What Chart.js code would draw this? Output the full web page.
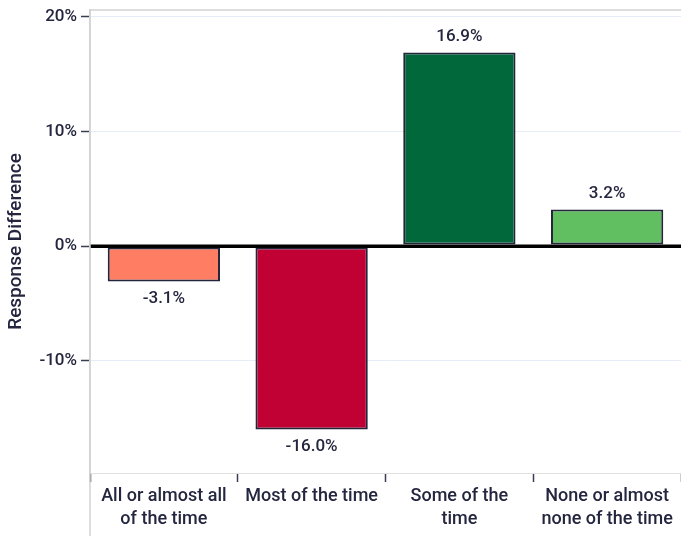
<!DOCTYPE html>
<html>
<head>
<meta charset="utf-8">
<script src="https://cdn.jsdelivr.net/npm/chart.js@4.4.1/dist/chart.umd.min.js"></script>
<style>
  html, body { margin: 0; padding: 0; background: #fff; }
  #wrap { width: 681px; height: 539px; }
</style>
</head>
<body>
<div id="wrap"><canvas id="c" width="681" height="539"></canvas></div>
<script>
// Response categories (multi-line labels as arrays)
const categories = [
  ["All or almost all", "of the time"],
  "Most of the time",
  ["Some of the", "time"],
  ["None or almost", "none of the time"]
];
// Difference in response share, percentage points
const differences = [-3.1, -16.0, 16.9, 3.2];
const barColors = ["#FF7D63", "#C10034", "#00683A", "#61BF62"];
const yTickValues = [-10, 0, 10, 20];
const yTitle = "Response Difference";

const TEXT = "#23263E";
const FONT = "Roboto";

// Zero baseline over the bars, then value labels above positive bars and below negative ones
const valueLabels = {
  id: "valueLabels",
  afterDatasetsDraw(chart) {
    const { ctx, chartArea } = chart;
    const y0 = chart.scales.y.getPixelForValue(0);
    ctx.save();
    ctx.strokeStyle = "#000000";
    ctx.lineWidth = 3;
    ctx.beginPath();
    ctx.moveTo(chartArea.left, y0);
    ctx.lineTo(chartArea.right, y0);
    ctx.stroke();

    const meta = chart.getDatasetMeta(0);
    ctx.font = "500 17px " + FONT;
    ctx.fillStyle = TEXT;
    ctx.textAlign = "center";
    ctx.textBaseline = "middle";
    meta.data.forEach((bar, i) => {
      const v = differences[i];
      const y = v >= 0 ? bar.y - 16 : bar.y + 17;
      ctx.fillText(v.toFixed(1) + "%", bar.x, y);
    });
    ctx.restore();
  }
};

// Top frame line and the y-axis line running down past the category labels
const frame = {
  id: "frame",
  afterDraw(chart) {
    const { ctx, chartArea } = chart;
    ctx.save();
    ctx.strokeStyle = "#D2D2D2";
    ctx.lineWidth = 1.5;
    ctx.beginPath();
    ctx.moveTo(chartArea.left, chartArea.top);
    ctx.lineTo(chartArea.right, chartArea.top);
    ctx.moveTo(chartArea.left, chartArea.top);
    ctx.lineTo(chartArea.left, chart.height - 3);
    ctx.stroke();
    ctx.restore();
  }
};

new Chart(document.getElementById("c"), {
  type: "bar",
  data: {
    labels: categories,
    datasets: [{
      data: differences,
      backgroundColor: barColors,
      borderColor: "#23253A",
      borderWidth: 2,
      borderSkipped: false,
      categoryPercentage: 1,
      barPercentage: 0.76
    }]
  },
  options: {
    responsive: false,
    animation: false,
    devicePixelRatio: 1,
    layout: { padding: { top: 10, right: 0, bottom: 0, left: 0 } },
    plugins: {
      legend: { display: false },
      tooltip: { enabled: false }
    },
    scales: {
      x: {
        offset: true,
        grid: {
          display: true,
          drawOnChartArea: false,
          offset: true,
          tickLength: 9,
          tickColor: "#3B3D52",
          tickWidth: 1.5
        },
        border: { display: true, color: "#E0E0E0", width: 1 },
        ticks: {
          font: { family: FONT, size: 18, weight: "500", lineHeight: 1.28 },
          color: TEXT,
          padding: 3,
          maxRotation: 0,
          autoSkip: false
        },
        afterFit(s) { s.height = 66; }
      },
      y: {
        min: -19.8,
        max: 20.6,
        afterBuildTicks(s) { s.ticks = yTickValues.map(v => ({ value: v })); },
        grid: {
          color: c => (c.tick && c.tick.value === 0 ? "#000000" : "#E7EDF6"),
          lineWidth: c => (c.tick && c.tick.value === 0 ? 3 : 1),
          tickLength: 9,
          tickColor: "#3B3D52",
          tickWidth: 1.5
        },
        border: { display: true, color: "#D2D2D2", width: 1.5 },
        ticks: {
          callback: v => v + "%",
          font: { family: FONT, size: 17, weight: "500", lineHeight: 0.6 },
          color: TEXT,
          padding: 4
        },
        title: {
          display: true,
          text: yTitle,
          font: { family: FONT, size: 19, weight: "500" },
          color: TEXT,
          padding: { top: 5, bottom: 0 }
        },
        afterFit(s) { s.width = 90; }
      }
    }
  },
  plugins: [valueLabels, frame]
});
</script>
</body>
</html>
